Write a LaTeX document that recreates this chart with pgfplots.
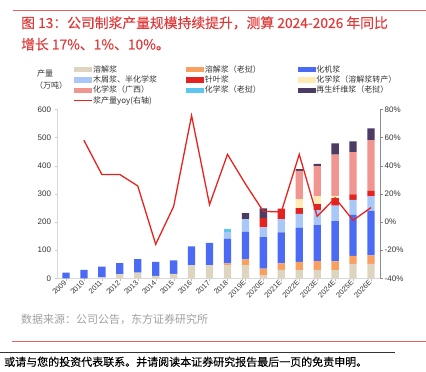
\documentclass[border=0pt]{standalone}
\usepackage{pgfplots}
\pgfplotsset{compat=1.18}
\usepackage{pgfplotstable}
\usepackage{fontspec}
\setmainfont{Liberation Sans}
\newfontfamily\cjk{Noto Sans CJK SC}
\newfontfamily\cjkb[FakeBold=0.3]{Noto Sans CJK SC}
\definecolor{ctan}{HTML}{DDD5C0}
\definecolor{corange}{HTML}{F9A060}
\definecolor{cblue}{HTML}{4B6BF5}
\definecolor{clb}{HTML}{A9C7F7}
\definecolor{cred}{HTML}{E3231F}
\definecolor{cyel}{HTML}{FFEBB3}
\definecolor{cpink}{HTML}{F0958F}
\definecolor{ccyan}{HTML}{5CC6EE}
\definecolor{cpur}{HTML}{4C3B62}
\definecolor{linered}{HTML}{E8231E}
\definecolor{titlered}{HTML}{E03A3A}
\definecolor{ticktext}{HTML}{333333}
\definecolor{srcgray}{HTML}{A0A0A0}

\pgfplotsset{
  barlegend/.style={legend image code/.code={\fill[##1] (0pt,-2.6pt) rectangle (18pt,2.6pt);}},
  linelegend/.style={legend image code/.code={\draw[##1] (0pt,0pt) -- (18pt,0pt);}},
}

\pgfplotstableread{
x tan orange blue lb red yel pink cyan pur
0  0  0  20  0  0  0  0   0  0
1  0  0  30  0  0  0  0   0  0
2  3  0  38  0  0  0  0   0  0
3  15 0  39  0  0  0  0   0  0
4  20 0  48  0  0  0  0   0  0
5  9  0  49  0  0  0  0   0  0
6  16 0  48  0  0  0  0   0  0
7  47 0  66  0  0  0  0   0  0
8  47 0  79  0  0  0  0   0  0
9  47 6  88  23 0  0  0   12 0
10 47 20 98  45 0  0  0   0  21
11 11 23 112 35 33 0  0   0  34
12 30 23 110 47 37 0  0   0  0
13 29 29 122 49 20 32 100 0  7
14 30 31 128 53 21 29 106 0  8
15 29 31 143 55 27 8  146 0  40
16 51 29 145 53 20 0  150 0  38
17 51 30 158 52 19 0  181 0  41
}\datatable

\begin{document}
\begin{tikzpicture}
\useasboundingbox (0,0) rectangle (426pt,372pt);
% header / footer text
\draw[titlered!80, line width=0.8pt] (13pt,361.3pt) -- (426pt,361.3pt);
\node[anchor=base west, inner sep=0pt, text=titlered, font=\cjkb\fontsize{13.8}{16}\selectfont] at (21pt,344pt) {图 13：公司制浆产量规模持续提升，测算 2024-2026 年同比};
\node[anchor=base west, inner sep=0pt, text=titlered, font=\cjkb\fontsize{13.8}{16}\selectfont] at (21pt,322.5pt) {增长 17\%、1\%、10\%。};
\node[inner sep=0pt, text=ticktext, font=\cjk\fontsize{8}{9}\selectfont] at (45pt,298.5pt) {产量};
\node[inner sep=0pt, text=ticktext, font=\cjk\fontsize{8}{9}\selectfont] at (51pt,287pt) {（万吨）};
\node[anchor=base west, inner sep=0pt, text=srcgray, font=\cjk\fontsize{11}{13}\selectfont] at (21pt,48pt) {数据来源：公司公告，东方证券研究所};
\draw[titlered!80, line width=0.8pt] (12pt,30.3pt) -- (426pt,30.3pt);
\draw[black!80, line width=0.5pt] (0pt,19.3pt) -- (395pt,19.3pt);
\node[anchor=base west, inner sep=0pt, text=black, font=\cjkb\fontsize{11}{13}\selectfont] at (4pt,6pt) {或请与您的投资代表联系。并请阅读本证券研究报告最后一页的免责申明。};

\begin{axis}[
  at={(57pt,93.7pt)}, anchor=south west,
  width=323pt, height=169pt, scale only axis,
  xmin=-0.5, xmax=17.5, ymin=0, ymax=600,
  ybar stacked, bar width=7.3pt,
  axis y line*=left, axis x line*=bottom,
  axis line style={draw=black!15},
  tick align=outside,
  major tick length=2.5pt,
  y tick style={draw=black!20},
  x tick style={draw=black!25},
  ytick={0,100,...,600},
  xtick={0,...,17},
  xticklabels={2009,2010,2011,2012,2013,2014,2015,2016,2017,2018,2019E,2020E,2021E,2022E,2023E,2024E,2025E,2026E},
  /pgf/number format/assume math mode=true,
  yticklabel style={font=\fontsize{8}{9}\selectfont, text=ticktext},
  xticklabel style={font=\fontsize{7.3}{8}\selectfont, text=ticktext, rotate=45, anchor=east, inner sep=1pt},
  legend columns=3,
  legend cell align=left,
  legend style={at={(0.04,1.275)}, anchor=north west, draw=none, fill=none,
    font=\cjk\fontsize{8}{9}\selectfont, text=ticktext,
    nodes={inner sep=0.8pt, text height=6.3pt, text depth=1.6pt},
    row sep=0.8pt},
  barlegend,
]
\addplot[fill=ctan, draw=none] table[x=x,y=tan]{\datatable};
\addlegendentry{\makebox[92pt][l]{溶解浆}}
\addplot[fill=corange, draw=none] table[x=x,y=orange]{\datatable};
\addlegendentry{\makebox[92pt][l]{溶解浆（老挝）}}
\addplot[fill=cblue, draw=none] table[x=x,y=blue]{\datatable};
\addlegendentry{\makebox[92pt][l]{化机浆}}
\addplot[fill=clb, draw=none] table[x=x,y=lb]{\datatable};
\addlegendentry{木屑浆、半化学浆}
\addplot[fill=cred, draw=none] table[x=x,y=red]{\datatable};
\addlegendentry{针叶浆}
\addplot[fill=cyel, draw=none] table[x=x,y=yel]{\datatable};
\addlegendentry{化学浆（溶解浆转产）}
\addplot[fill=cpink, draw=none] table[x=x,y=pink]{\datatable};
\addlegendentry{化学浆（广西）}
\addplot[fill=ccyan, draw=none] table[x=x,y=cyan]{\datatable};
\addlegendentry{化学浆（老挝）}
\addplot[fill=cpur, draw=none] table[x=x,y=pur]{\datatable};
\addlegendentry{再生纤维浆（老挝）}
\addlegendimage{linered, line width=1.3pt, linelegend}
\addlegendentry{浆产量yoy(右轴)}
\end{axis}

\begin{axis}[
  at={(57pt,93.7pt)}, anchor=south west,
  width=323pt, height=169pt, scale only axis,
  xmin=-0.5, xmax=17.5, ymin=-40, ymax=80,
  axis y line*=right, axis x line=none,
  axis line style={draw=black!45},
  tick align=outside,
  major tick length=3pt,
  y tick style={draw=black!45},
  ytick={-40,-20,...,80},
  /pgf/number format/assume math mode=true,
  yticklabel={\pgfmathprintnumber{\tick}\%},
  yticklabel style={font=\fontsize{8}{9}\selectfont, text=ticktext, inner sep=1.5pt},
]
\addplot[linered, line width=1.3pt, mark=none] coordinates {
(1,58) (2,33.7) (3,33.7) (4,25.6) (5,-15.8) (6,11) (7,75.5) (8,12.3) (9,48)
(10,27) (11,7.5) (12,7.1) (13,48) (14,4) (15,17) (16,1.2) (17,10.2)};
\end{axis}
\end{tikzpicture}
\end{document}
